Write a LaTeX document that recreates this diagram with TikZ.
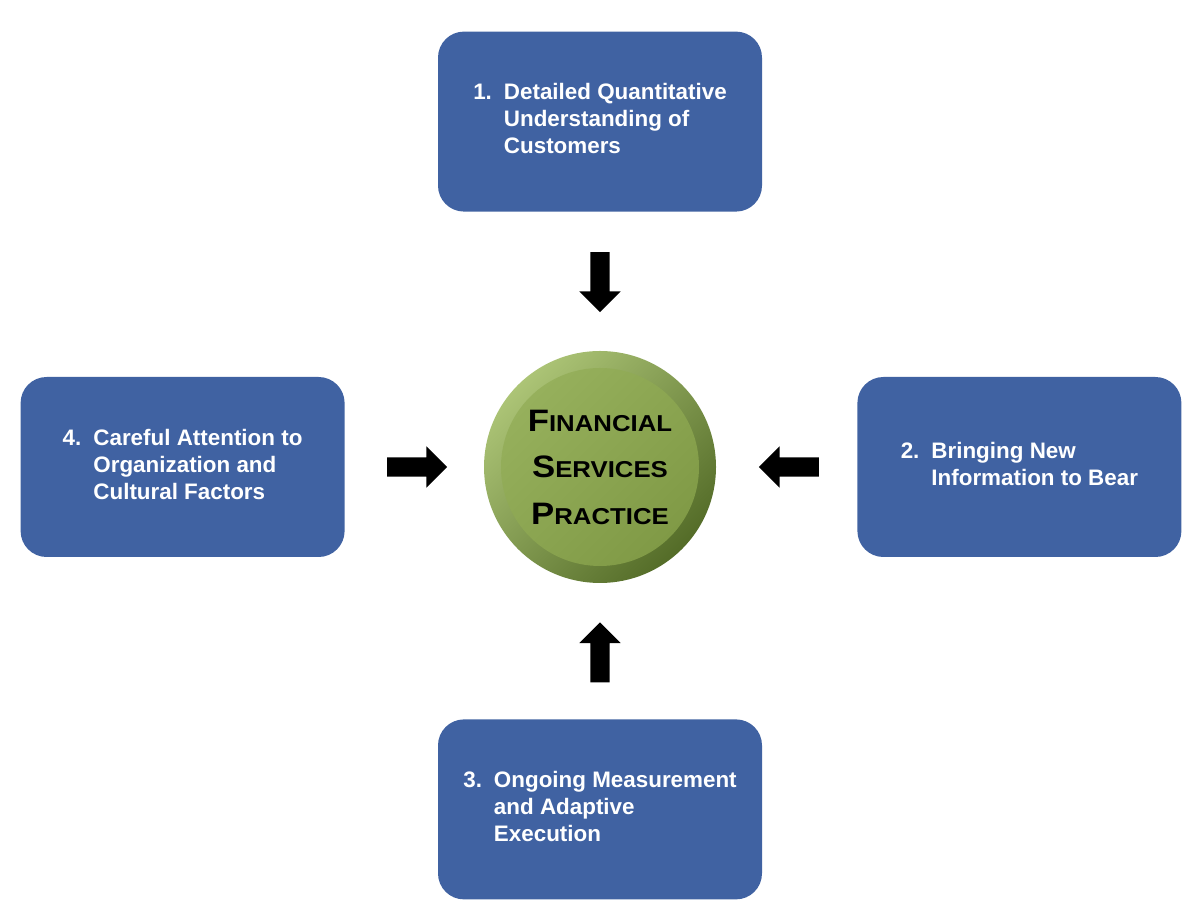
\documentclass[tikz,border=0pt]{standalone}
\usepackage{graphicx}
\usepackage{fontspec}
\setmainfont{Liberation Sans}
\usepackage{tikz}
\usetikzlibrary{shapes,backgrounds,calc,positioning}
\definecolor{boxblue}{RGB}{64,98,162}
\definecolor{rimlight}{RGB}{172,196,118}
\definecolor{rimdark}{RGB}{84,108,40}
\definecolor{facelight}{RGB}{150,176,92}
\definecolor{facedark}{RGB}{128,154,70}
\tikzstyle{stage}=[rectangle, rounded corners=26pt, fill=boxblue, text=white,
  minimum width=324pt, minimum height=180pt, inner sep=0pt,
  font=\fontsize{22.4}{27}\selectfont\bfseries]
\tikzstyle{hub}=[circle, minimum size=232pt, inner sep=0pt, align=center,
  font=\fontsize{31}{46.5}\selectfont\bfseries]
\tikzstyle{blockarrow}=[single arrow, fill=black, inner xsep=0pt, inner ysep=9.5pt,
  minimum width=41pt, minimum height=60pt,
  single arrow head extend=11pt, single arrow head indent=0pt]
\newcommand{\hubline}[2]{\scalebox{1.12}[1]{#1{\fontsize{23}{23}\selectfont #2}}}
\newcommand{\stagetext}[2]{\begin{tabular}{@{}l@{\hspace{12pt}}l@{}}#1 & #2\end{tabular}}

\begin{document}
\begin{tikzpicture}[x=1pt, y=1pt]
  \useasboundingbox (0,0) rectangle (1200,921);
  % centre
  \node[hub] (hub) at (600,454)
    {\hubline{F}{INANCIAL}\\ \hubline{S}{ERVICES}\\ \hubline{P}{RACTICE}};
  \begin{scope}[on background layer]
    \shade[shading=axis, top color=rimlight, bottom color=rimdark, shading angle=45]
      (hub.center) circle (116);
    \shade[shading=axis, top color=facelight, bottom color=facedark, shading angle=45]
      (hub.center) circle (99);
  \end{scope}
  % stages
  \node[stage, above=139pt of hub] (detail)
    {\stagetext{1.}{Detailed Quantitative\\ & Understanding of\\ & Customers}};
  \node[stage, right=141pt of hub] (bring)
    {\stagetext{2.}{Bringing New\\ & Information to Bear}};
  \node[stage, below=136pt of hub] (ongoing)
    {\stagetext{3.}{Ongoing Measurement\\ & and Adaptive\\ & Execution}};
  \node[stage, left=139pt of hub] (careful)
    {\stagetext{4.}{Careful Attention to\\ & Organization and\\ & Cultural Factors}};
  % arrows
  \node[blockarrow, rotate=-90, xshift=-4pt] (a1) at ($(detail.south)!0.5!(hub.north)$) {};
  \node[blockarrow, rotate=180, xshift=-7pt] (a2) at ($(bring.west)!0.5!(hub.east)$) {};
  \node[blockarrow, rotate=90, xshift=-6pt] (a3) at ($(ongoing.north)!0.5!(hub.south)$) {};
  \node[blockarrow, xshift=-2pt] (a4) at ($(careful.east)!0.5!(hub.west)$) {};
\end{tikzpicture}
\end{document}
